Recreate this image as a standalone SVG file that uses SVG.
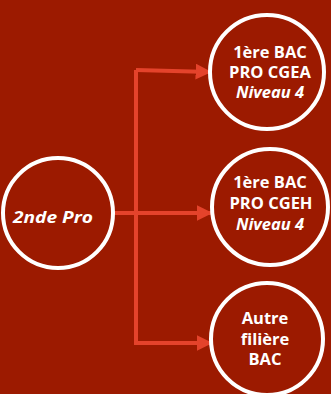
<svg xmlns="http://www.w3.org/2000/svg" width="331" height="394" viewBox="0 0 331 394">
<defs>
<style>
.node{fill:none;stroke:#ffffff;stroke-width:4}
.t{font-family:"Open Sans",sans-serif;font-weight:700;font-size:16.5px;fill:#ffffff;text-anchor:middle}
.i{font-style:italic}
.c{fill:none;stroke:#E4432B;stroke-width:4}
</style>
<marker id="ah" viewBox="0 0 10 10" refX="9" refY="5" markerWidth="4" markerHeight="4" markerUnits="strokeWidth" orient="auto">
<path d="M0,0 L10,5 L0,10 z" fill="#E4432B"/>
</marker>
</defs>
<rect width="331" height="394" fill="#9C1A00"/>
<g id="connectors">
<path class="c" d="M113,213 H136"/>
<path class="c" d="M136,70 V345"/>
<path class="c" d="M136,70 L210,72" marker-end="url(#ah)"/>
<path class="c" d="M136,213 H211" marker-end="url(#ah)"/>
<path class="c" d="M136,343 H211" marker-end="url(#ah)"/>
</g>
<g id="n-2nde">
<circle class="node" cx="58" cy="213" r="55"/>
<text class="t i" x="53" y="222.5" textLength="80" lengthAdjust="spacingAndGlyphs">2nde Pro</text>
</g>
<g id="n-cgea">
<circle class="node" cx="267" cy="72" r="57"/>
<text class="t" x="270" y="58">1ère BAC</text>
<text class="t" x="270" y="78">PRO CGEA</text>
<text class="t i" x="270" y="98">Niveau 4</text>
</g>
<g id="n-cgeh">
<circle class="node" cx="270" cy="207" r="58"/>
<text class="t" x="270" y="188">1ère BAC</text>
<text class="t" x="271" y="209">PRO CGEH</text>
<text class="t i" x="270" y="230">Niveau 4</text>
</g>
<g id="n-autre">
<circle class="node" cx="267" cy="339" r="56"/>
<text class="t" x="265" y="324">Autre</text>
<text class="t" x="265" y="345">filière</text>
<text class="t" x="265" y="365">BAC</text>
</g>
</svg>
